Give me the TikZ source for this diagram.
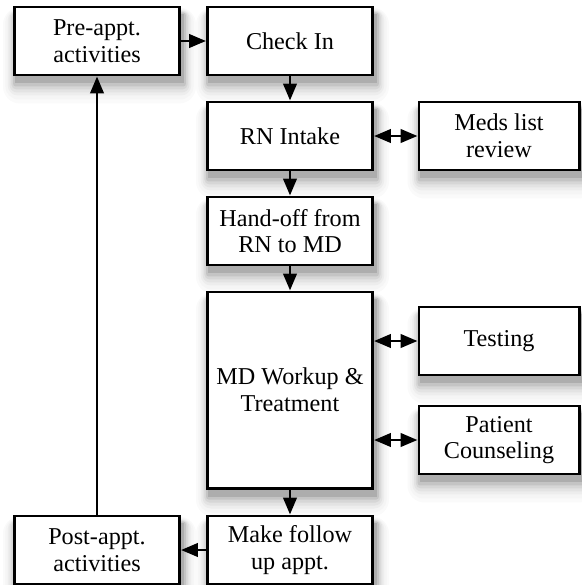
\documentclass[tikz,border=0pt]{standalone}
\usepackage{fontspec}
\setmainfont{Liberation Serif}
\usetikzlibrary{positioning, arrows.meta, calc, backgrounds}
\definecolor{boxLine}{HTML}{000000}

\begin{document}
\begin{tikzpicture}[
    x=0.025cm, y=-0.025cm,
    step box/.style={draw=boxLine, line width=2.1pt, rectangle, fill=white, align=center,
        minimum width=4.125cm, minimum height=1.7cm, inner sep=2pt,
        font=\fontsize{17.2}{19}\selectfont},
    side box/.style={step box, minimum width=4.0cm},
    >={Triangle[length=12pt, width=9.5pt]},
    flow/.style={line width=2pt, ->},
    both/.style={line width=2pt, <->},
]
\useasboundingbox (0,0) rectangle (582,585);
\node[step box] (pre)      at (97, 41)  {Pre-appt.\\activities};
\node[step box] (checkin)  at (290, 41) {Check In};
\node[step box] (intake)   at (290, 136) {RN Intake};
\node[side box] (meds)     at (499, 136) {Meds list\\review};
\node[step box] (handoff)  at (290, 231) {Hand-off from\\RN to MD};
\node[step box, minimum height=4.9cm] (workup) at (290, 390) {MD Workup \&\\Treatment};
\node[side box] (testing)  at (499, 341) {Testing};
\node[side box] (counsel)  at (499, 440) {Patient\\Counseling};
\node[step box] (followup) at (290, 550) {Make follow\\up appt.};
\node[step box] (post)     at (97, 550)  {Post-appt.\\activities};
% soft drop shadows
\begin{scope}[on background layer]
\foreach \s/\g in {20/2, 16/4, 12/7, 9/11, 6/16, 3/23, 0/32} {
  \foreach \n in {pre, checkin, intake, meds, handoff, workup, testing, counsel, followup, post} {
    \fill[black!\g, rounded corners=\s*0.6pt]
      ($(\n.north west)+(2-\s*0.6, 8-\s*0.3)$) rectangle ($(\n.south east)+(3+\s*0.6, 7+\s)$);
  }
}
\end{scope}
\draw[flow] (pre) -- (checkin);
\draw[flow] (checkin) -- (intake);
\draw[flow] (intake) -- (handoff);
\draw[flow] (handoff) -- (workup);
\draw[flow] (workup) -- (followup);
\draw[flow] (followup) -- (post);
\draw[flow] (post) -- (pre);
\draw[both] (intake) -- (meds);
\draw[both] (workup.east |- testing) -- (testing);
\draw[both] (workup.east |- counsel) -- (counsel);
\end{tikzpicture}
\end{document}
